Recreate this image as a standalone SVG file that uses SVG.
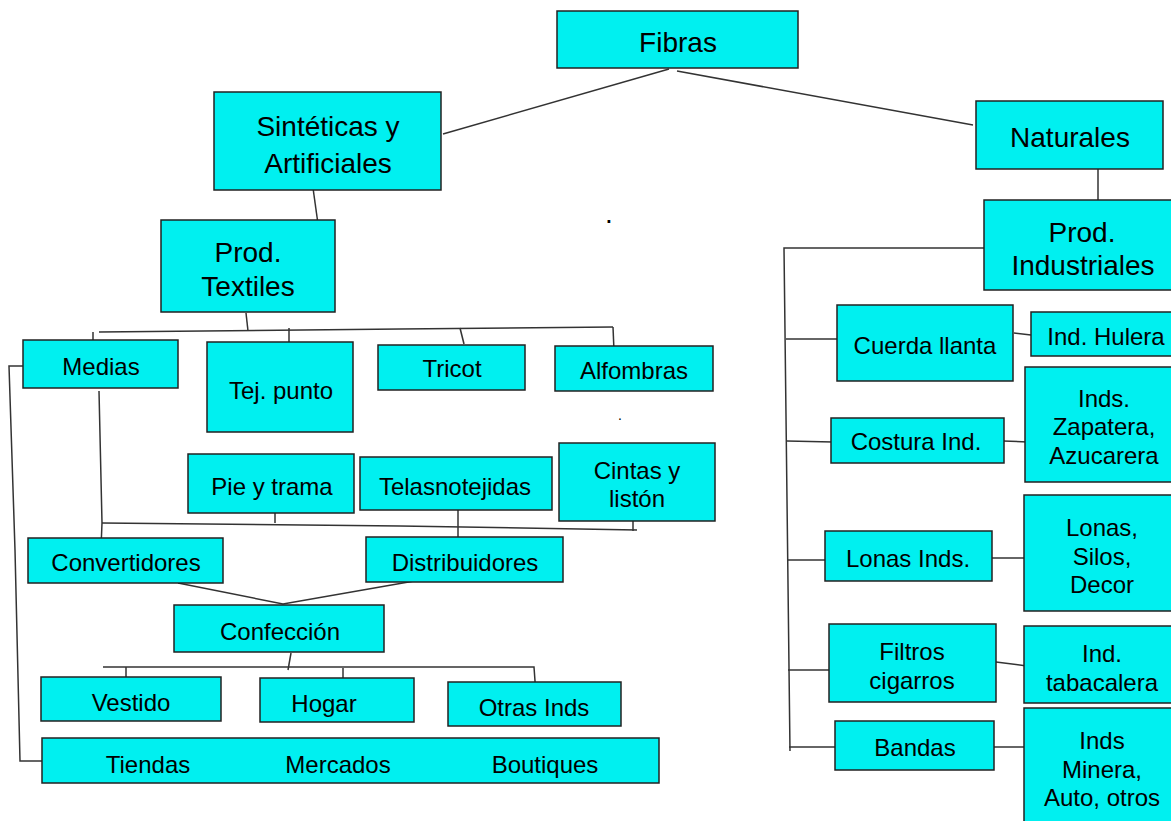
<svg xmlns="http://www.w3.org/2000/svg" width="1171" height="821" viewBox="0 0 1171 821">
<style>
.b{fill:#00F0F0;stroke:#222;stroke-width:1.5}
.t{font-family:"Liberation Sans",Arial,sans-serif;font-size:24px;fill:#000;text-anchor:middle}
.L{font-size:28px}
.c{fill:none;stroke:#333;stroke-width:1.5}
</style>
<rect width="1171" height="821" fill="#fff"/>
<g id="connectors" class="c">
<path d="M669,69 L443,134"/>
<path d="M677,71 L973,125"/>
<path d="M313,188 L318,224"/>
<path d="M1098,169 V200"/>
<path d="M246,313 L248,331"/>
<path d="M99,332 L400,329 L613,327"/>
<path d="M93,332 V342"/>
<path d="M289,328 V350"/>
<path d="M460,328 L464,344"/>
<path d="M613,327 L614,351"/>
<path d="M41,366 H9 L15,550 L20,761 H56"/>
<path d="M99,391 L102,523 L101,548"/>
<path d="M102,523 L400,526 L637,530"/>
<path d="M275,500 V523"/>
<path d="M458,508 V547"/>
<path d="M633,507 V531"/>
<path d="M178,583 L283,604 L420,580"/>
<path d="M291,653 L288,670"/>
<path d="M103,667 H534 L536,695"/>
<path d="M126,667 V687"/>
<path d="M343,668 V689"/>
<path d="M1027,248 H784 L790,751"/>
<path d="M786,339 H839"/>
<path d="M1014,333 L1031,335"/>
<path d="M787,441 L833,442"/>
<path d="M1003,441 L1028,442"/>
<path d="M788,560 H825"/>
<path d="M990,558 H1024"/>
<path d="M788,670 H831"/>
<path d="M996,662 L1027,666"/>
<path d="M789,747 H838"/>
<path d="M994,747 H1024"/>
</g>
<g id="fibras"><rect class="b" x="557" y="11" width="241" height="57"/><text class="t L" x="678" y="52">Fibras</text></g>
<g id="sinteticas"><rect class="b" x="214" y="92" width="227" height="98"/><text class="t L" x="328" y="136">Sintéticas y</text><text class="t L" x="328" y="173">Artificiales</text></g>
<g id="naturales"><rect class="b" x="976" y="101" width="187" height="68"/><text class="t L" x="1070" y="147">Naturales</text></g>
<g id="prod-industriales"><rect class="b" x="984" y="200" width="195" height="90"/><text class="t L" x="1082" y="242">Prod.</text><text class="t L" x="1083" y="275">Industriales</text></g>
<g id="prod-textiles"><rect class="b" x="161" y="220" width="174" height="92"/><text class="t L" x="248" y="262">Prod.</text><text class="t L" x="248" y="296">Textiles</text></g>
<g id="medias"><rect class="b" x="23" y="340" width="155" height="48"/><text class="t" x="101" y="375">Medias</text></g>
<g id="tej-punto"><rect class="b" x="207" y="342" width="146" height="90"/><text class="t" x="281" y="399">Tej. punto</text></g>
<g id="tricot"><rect class="b" x="378" y="345" width="147" height="45"/><text class="t" x="452" y="377">Tricot</text></g>
<g id="alfombras"><rect class="b" x="555" y="346" width="158" height="45"/><text class="t" x="634" y="379">Alfombras</text></g>
<g id="pie-trama"><rect class="b" x="188" y="454" width="166" height="59"/><text class="t" x="272" y="495">Pie y trama</text></g>
<g id="telas"><rect class="b" x="360" y="457" width="192" height="53"/><text class="t" x="455" y="495">Telasnotejidas</text></g>
<g id="cintas"><rect class="b" x="559" y="443" width="156" height="78"/><text class="t" x="637" y="479">Cintas y</text><text class="t" x="637" y="507">listón</text></g>
<g id="convertidores"><rect class="b" x="28" y="538" width="195" height="45"/><text class="t" x="126" y="571">Convertidores</text></g>
<g id="distribuidores"><rect class="b" x="366" y="537" width="197" height="45"/><text class="t" x="465" y="571">Distribuidores</text></g>
<g id="confeccion"><rect class="b" x="174" y="605" width="210" height="47"/><text class="t" x="280" y="640">Confección</text></g>
<g id="vestido"><rect class="b" x="41" y="677" width="180" height="44"/><text class="t" x="131" y="711">Vestido</text></g>
<g id="hogar"><rect class="b" x="260" y="678" width="154" height="44"/><text class="t" x="324" y="712">Hogar</text></g>
<g id="otras"><rect class="b" x="448" y="682" width="173" height="44"/><text class="t" x="534" y="716">Otras Inds</text></g>
<g id="tiendas"><rect class="b" x="42" y="738" width="617" height="45"/><text class="t" x="148" y="773">Tiendas</text><text class="t" x="338" y="773">Mercados</text><text class="t" x="545" y="773">Boutiques</text></g>
<g id="cuerda"><rect class="b" x="837" y="305" width="176" height="76"/><text class="t" x="925" y="354">Cuerda llanta</text></g>
<g id="hulera"><rect class="b" x="1031" y="312" width="145" height="44"/><text class="t" x="1106" y="345">Ind. Hulera</text></g>
<g id="costura"><rect class="b" x="831" y="418" width="173" height="45"/><text class="t" x="916" y="450">Costura Ind.</text></g>
<g id="zapatera"><rect class="b" x="1025" y="367" width="151" height="115"/><text class="t" x="1104" y="407">Inds.</text><text class="t" x="1104" y="435">Zapatera,</text><text class="t" x="1104" y="464">Azucarera</text></g>
<g id="lonas-inds"><rect class="b" x="825" y="531" width="167" height="50"/><text class="t" x="908" y="567">Lonas Inds.</text></g>
<g id="lonas-silos"><rect class="b" x="1024" y="495" width="152" height="116"/><text class="t" x="1102" y="536">Lonas,</text><text class="t" x="1102" y="565">Silos,</text><text class="t" x="1102" y="593">Decor</text></g>
<g id="filtros"><rect class="b" x="829" y="624" width="167" height="78"/><text class="t" x="912" y="660">Filtros</text><text class="t" x="912" y="689">cigarros</text></g>
<g id="tabacalera"><rect class="b" x="1024" y="626" width="152" height="77"/><text class="t" x="1102" y="662">Ind.</text><text class="t" x="1102" y="691">tabacalera</text></g>
<g id="bandas"><rect class="b" x="835" y="721" width="159" height="49"/><text class="t" x="915" y="756">Bandas</text></g>
<g id="minera"><rect class="b" x="1024" y="708" width="152" height="120"/><text class="t" x="1102" y="749">Inds</text><text class="t" x="1102" y="778">Minera,</text><text class="t" x="1102" y="806">Auto, otros</text></g>
<text class="t L" x="609" y="223">.</text>
<text class="t" x="620" y="420" style="font-size:14px">.</text>
</svg>
